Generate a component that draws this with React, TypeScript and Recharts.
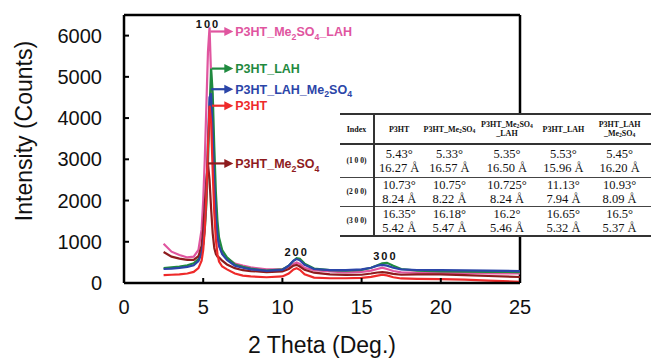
import React from 'react';
import { LineChart, Line, XAxis, YAxis, ReferenceLine, ReferenceDot } from 'recharts';

// 2θ grid (deg.) and intensities (counts)
const twoTheta = [
  2.5, 3, 3.5, 4, 4.4, 4.7, 4.9, 5.0, 5.1, 5.2, 5.3, 5.4, 5.5, 5.6, 5.7, 5.8, 5.9, 6.0, 6.2, 6.5,
  7, 7.5, 8, 9, 10, 10.4, 10.7, 10.9, 11.1, 11.4, 12, 13, 14, 15, 15.6, 16.0, 16.3, 16.6, 17.0, 17.5,
  18.5, 20, 21.5, 23, 25,
];

const p3htMe2so4Lah = [
  950, 760, 680, 620, 640, 800, 1300, 2000, 3000, 4300, 5600, 6200, 5000, 3400, 2200, 1500, 1100, 900, 720, 600,
  470, 420, 380, 330, 340, 380, 460, 500, 460, 370, 310, 280, 260, 270, 300, 340, 370, 340, 290, 260,
  250, 240, 240, 235, 230,
];
const p3htLah = [
  360, 380, 400, 430, 480, 580, 760, 950, 1300, 1900, 2900, 4200, 5200, 4600, 3300, 2200, 1500, 1100, 800, 620,
  450, 390, 350, 300, 330, 420, 540, 600, 590, 470, 350, 310, 300, 320, 370, 430, 480, 490, 420, 340,
  300, 280, 275, 270, 265,
];
const p3htLahMe2so4 = [
  340, 350, 365, 390, 430, 530, 720, 950, 1400, 2200, 3400, 4500, 4600, 3600, 2400, 1600, 1150, 900, 700, 560,
  420, 370, 330, 295, 320, 420, 540, 580, 550, 440, 340, 310, 310, 330, 370, 420, 440, 420, 370, 330,
  315, 310, 305, 300, 290,
];
const p3htMe2so4 = [
  750, 640, 590, 560, 560, 650, 900, 1300, 1900, 2500, 2900, 2500, 1800, 1200, 850, 700, 640, 620, 540, 450,
  360, 310, 290, 265, 280, 340, 420, 440, 400, 320, 250, 210, 195, 200, 230, 255, 265, 250, 220, 200,
  210, 210, 190, 170, 145,
];
const p3ht = [
  190, 200, 210, 230, 270, 360, 540, 800, 1300, 2100, 3300, 4300, 3900, 2700, 1700, 1050, 700, 520, 400, 330,
  230, 180, 160, 140, 160, 230, 330, 360, 320, 210, 130, 115, 115, 125, 150, 180, 200, 185, 140, 110,
  100, 95, 80, 60, 30,
];

const xTicks = [0, 5, 10, 15, 20, 25];
const yTicks = [0, 1000, 2000, 3000, 4000, 5000, 6000];

// series: key, legend text ({n} = subscript), colour, arrow start 2θ, arrow height
const seriesKeys = ['pink', 'green', 'darkred', 'blue', 'red'];
const seriesValues = [p3htMe2so4Lah, p3htLah, p3htMe2so4, p3htLahMe2so4, p3ht];
const seriesNames = ['P3HT_Me{2}SO{4}_LAH', 'P3HT_LAH', 'P3HT_Me{2}SO{4}', 'P3HT_LAH_Me{2}SO{4}', 'P3HT'];
const seriesColors = ['#e0559f', '#1f8a3f', '#8e1b1e', '#2b45a8', '#ee2a2a'];
const arrowFrom = [5.45, 5.55, 5.3, 5.5, 5.55];
const arrowAt = [6100, 5200, 2900, 4700, 4300];
const arrowTo = 6.9;

// reflection indices on the peaks
const peakText = ['100', '200', '300'];
const peakX = [5.3, 10.9, 16.5];
const peakY = [6280, 750, 650];

// inset table
const tableHeaders = ['Index', 'P3HT', 'P3HT_Me{2}SO{4}', 'P3HT_Me{2}SO{4}|_LAH', 'P3HT_LAH', 'P3HT_LAH|_Me{2}SO{4}'];
const tableIndex = ['(1 0 0)', '(2 0 0)', '(3 0 0)'];
const tableAngles = [
  ['5.43°', '5.33°', '5.35°', '5.53°', '5.45°'],
  ['10.73°', '10.75°', '10.725°', '11.13°', '10.93°'],
  ['16.35°', '16.18°', '16.2°', '16.65°', '16.5°'],
];
const tableSpacings = [
  ['16.27 Å', '16.57 Å', '16.50 Å', '15.96 Å', '16.20 Å'],
  ['8.24 Å', '8.22 Å', '8.24 Å', '7.94 Å', '8.09 Å'],
  ['5.42 Å', '5.47 Å', '5.46 Å', '5.32 Å', '5.37 Å'],
];

const chartData = twoTheta.map((x, i) => {
  const row: any = { x };
  seriesKeys.forEach((k, s) => { row[k] = seriesValues[s][i]; });
  return row;
});

const SANS = '"Liberation Sans", Arial, sans-serif';
const SERIF = '"Liberation Serif", "Times New Roman", serif';

const splitSub = (s: string) => s.split(/(\{[^}]*\})/).filter(Boolean).map(p =>
  p.startsWith('{') ? { t: p.slice(1, -1), sub: true } : { t: p, sub: false });

const SvgSubText = ({ text, size }: { text: string; size: number }) => {
  let shift = 0;
  return (
    <>
      {splitSub(text).map((p, i) => {
        const target = p.sub ? size * 0.3 : 0;
        const dy = target - shift;
        shift = target;
        return (
          <tspan key={i} dy={dy} fontSize={p.sub ? size * 0.7 : size}>{p.t}</tspan>
        );
      })}
    </>
  );
};

const HtmlSubText = ({ text }: { text: string }) => (
  <>
    {text.split('|').map((line, li) => (
      <div key={li}>
        {splitSub(line).map((p, i) => p.sub
          ? <sub key={i} style={{ fontSize: '0.7em', verticalAlign: '-0.2em', lineHeight: 0 }}>{p.t}</sub>
          : <span key={i}>{p.t}</span>)}
      </div>
    ))}
  </>
);

const arrowShape = (color: string, label: string) => (props: any) => {
  const { x1, y1, x2, y2 } = props;
  return (
    <g>
      <line x1={x1} y1={y1} x2={x2 - 6} y2={y2} stroke={color} strokeWidth={2.2} />
      <polygon points={`${x2},${y2} ${x2 - 9},${y2 - 4.5} ${x2 - 9},${y2 + 4.5}`} fill={color} />
      <text x={x2 + 2} y={y2 + 4.5} fill={color} fontFamily={SANS} fontWeight="bold">
        <SvgSubText text={label} size={12.5} />
      </text>
    </g>
  );
};

const peakShape = (label: string) => (props: any) => (
  <text x={props.cx} y={props.cy} textAnchor="middle" dominantBaseline="central"
    fontFamily={SANS} fontWeight="bold" fontSize={11} letterSpacing={2} fill="#111">
    {label}
  </text>
);

const colWidths = [36, 51, 51, 65, 51, 66];
const rowHeights = [33, 28, 29];
const rule = '2px solid #333';

const InsetTable = () => (
  <table style={{
    position: 'absolute', left: 340, top: 113, borderCollapse: 'collapse', tableLayout: 'fixed',
    background: '#fff', fontFamily: SERIF, color: '#111', borderTop: rule, borderBottom: rule,
  }}>
    <colgroup>{colWidths.map((w, i) => <col key={i} style={{ width: w }} />)}</colgroup>
    <tbody>
      <tr style={{ height: 30, borderBottom: rule }}>
        {tableHeaders.map((h, i) => (
          <td key={i} style={{
            padding: 0, textAlign: 'center', fontWeight: 'bold', fontSize: 8, lineHeight: '9px',
            borderRight: i === 0 ? rule : undefined,
          }}>
            <HtmlSubText text={h} />
          </td>
        ))}
      </tr>
      {tableIndex.map((idx, r) => (
        <tr key={idx} style={{ height: rowHeights[r], borderBottom: r < 2 ? '1.5px solid #444' : undefined }}>
          <td style={{ padding: 0, textAlign: 'center', fontWeight: 'bold', fontSize: 7.5, borderRight: rule }}>{idx}</td>
          {tableAngles[r].map((a, c) => (
            <td key={c} style={{ padding: 0, textAlign: 'center', fontSize: 12.5, lineHeight: '14px', whiteSpace: 'nowrap' }}>
              <div>{a}</div>
              <div>{tableSpacings[r][c]}</div>
            </td>
          ))}
        </tr>
      ))}
    </tbody>
  </table>
);

export default function App() {
  return (
    <div style={{ position: 'absolute', left: 0, top: 0, width: 651, height: 361, overflow: 'hidden', background: '#fff' }}>
      <LineChart width={651} height={361} data={chartData} margin={{ top: 15, right: 131, bottom: 0, left: 0 }}>
        <XAxis
          type="number"
          dataKey="x"
          domain={[0, 25]}
          ticks={xTicks}
          height={78}
          tickSize={-5}
          tickMargin={22}
          axisLine={{ stroke: '#000', strokeWidth: 2.5 }}
          tickLine={{ stroke: '#000', strokeWidth: 2 }}
          tick={{ fill: '#111', fontSize: 20, fontFamily: SANS }}
          label={{ value: '2 Theta (Deg.)', position: 'insideBottom', offset: 8, fill: '#111', fontSize: 23, fontFamily: SANS }}
        />
        <YAxis
          type="number"
          domain={[0, 6500]}
          ticks={yTicks}
          width={124}
          tickSize={-5}
          tickMargin={27}
          axisLine={{ stroke: '#000', strokeWidth: 2.5 }}
          tickLine={{ stroke: '#000', strokeWidth: 2 }}
          tick={{ fill: '#111', fontSize: 20, fontFamily: SANS }}
          label={{
            content: () => (
              <text x={24} y={131} transform="rotate(-90, 24, 131)" textAnchor="middle" dominantBaseline="central"
                fill="#111" fontSize={23} fontFamily={SANS}>
                Intensity (Counts)
              </text>
            ),
          }}
        />
        <ReferenceLine y={6500} stroke="#000" strokeWidth={2.5} />
        <ReferenceLine x={25} stroke="#000" strokeWidth={2.5} />
        {seriesKeys.map((k, s) => (
          <Line
            key={k}
            type="linear"
            dataKey={k}
            stroke={seriesColors[s]}
            strokeWidth={2.2}
            dot={false}
            isAnimationActive={false}
          />
        ))}
        {seriesKeys.map((k, s) => (
          <ReferenceLine
            key={'arrow-' + k}
            segment={[{ x: arrowFrom[s], y: arrowAt[s] }, { x: arrowTo, y: arrowAt[s] }]}
            shape={arrowShape(seriesColors[s], seriesNames[s])}
          />
        ))}
        {peakText.map((t, i) => (
          <ReferenceDot key={t} x={peakX[i]} y={peakY[i]} r={0} shape={peakShape(t)} />
        ))}
      </LineChart>
      <InsetTable />
    </div>
  );
}
